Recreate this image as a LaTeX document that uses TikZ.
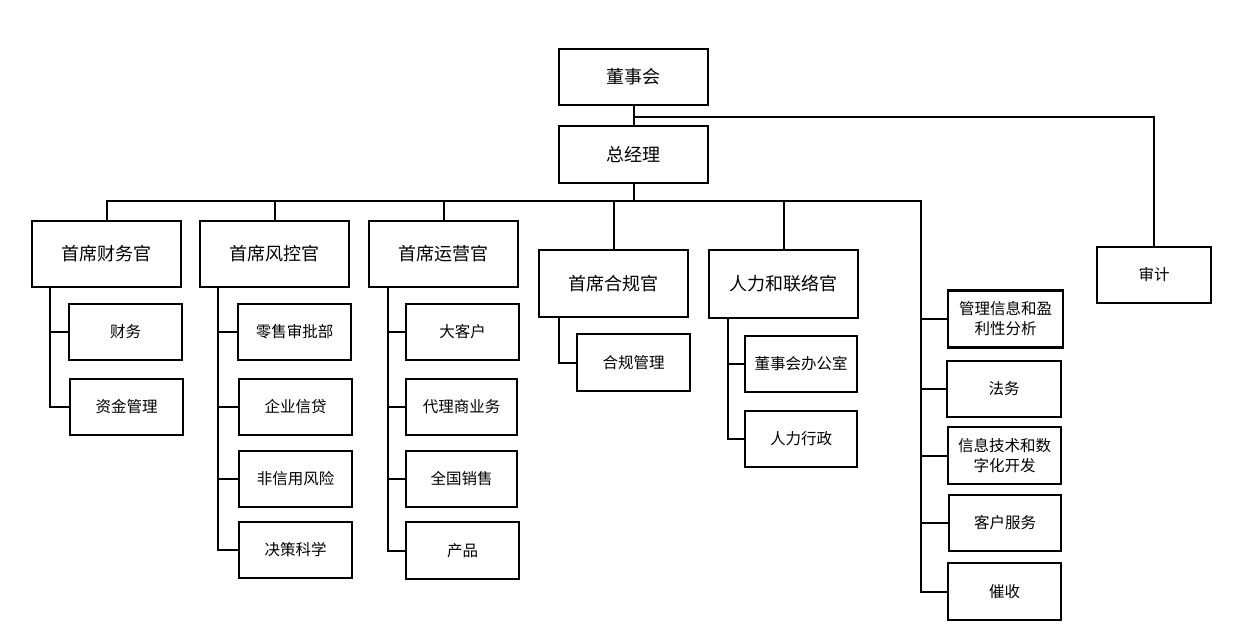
\documentclass[tikz,border=0pt]{standalone}
\usepackage{fontspec}
\setmainfont{Noto Sans CJK SC}
\begin{document}
\begin{tikzpicture}[x=1pt,y=-1pt,
  box/.style={draw=black,line width=2.8pt,fill=white,inner sep=0pt,align=center},
  big/.style={box,minimum width=149pt,font=\fontsize{18}{21}\selectfont},
  small/.style={box,minimum width=113pt,minimum height=56pt,font=\fontsize{15.5}{20}\selectfont},
  conn/.style={draw=black,line width=2pt}]
\useasboundingbox (0,0) rectangle (1247,632);
% top
\node[big,minimum height=56pt] (dsh) at (633.5,77) {董事会};
\node[big,minimum height=57pt] (zjl) at (633.5,154.5) {总经理};
\node[small,minimum width=114pt] (sj) at (1154,275) {审计};
% chiefs
\node[big,minimum height=66pt] (cfo) at (106.5,254) {首席财务官};
\node[big,minimum height=66pt] (cro) at (274.5,254) {首席风控官};
\node[big,minimum height=66pt] (coo) at (443.5,254) {首席运营官};
\node[big,minimum height=67pt] (cco) at (613.5,283.5) {首席合规官};
\node[big,minimum height=68pt] (hr) at (783.5,284) {人力和联络官};
% cfo children
\node[small] (cw) at (125.5,332) {财务};
\node[small] (zjgl) at (126.5,407) {资金管理};
% cro children
\node[small] (lssp) at (294.5,332) {零售审批部};
\node[small] (qyxd) at (295.5,407) {企业信贷};
\node[small] (fxyfx) at (295.5,479) {非信用风险};
\node[small] (jckx) at (295.5,550) {决策科学};
% coo children
\node[small] (dkh) at (462.5,332) {大客户};
\node[small,minimum width=111pt] (dlsyw) at (461.5,407) {代理商业务};
\node[small,minimum width=111pt] (qgxs) at (461.5,479) {全国销售};
\node[small,minimum height=57pt] (cp) at (462.5,550.5) {产品};
% cco child
\node[small,minimum height=57pt] (hggl) at (633.5,362.5) {合规管理};
% hr children
\node[small,minimum width=112pt] (dshbgs) at (801,364) {董事会办公室};
\node[small,minimum width=112pt] (rlxz) at (801,439) {人力行政};
% right column
\node[small,minimum width=115pt,minimum height=57pt] (glxx) at (1005.5,319) {管理信息和盈\\利性分析};
\node[small,minimum width=114pt] (fw) at (1004,389) {法务};
\node[small,minimum height=57pt] (xxjs) at (1004.5,455.5) {信息技术和数\\字化开发};
\node[small,minimum width=112pt] (khfw) at (1005,523) {客户服务};
\node[small,minimum height=57pt] (cs) at (1004.5,591.5) {催收};
% connector coordinates
\coordinate (aud) at (633.5,117);
\coordinate (bus) at (633.5,201);
\coordinate (rc) at (921,201);
\coordinate (rcEnd) at (921,591.5);
\coordinate (cfoT) at (50,287);
\coordinate (croT) at (218,287);
\coordinate (cooT) at (388,287);
\coordinate (ccoT) at (559,317);
\coordinate (hrT) at (728,318);
% connectors
\draw[conn] (dsh.south) -- (zjl.north);
\draw[conn] (aud) -| (sj.north);
\draw[conn] (zjl.south) -- (bus);
\draw[conn] (cfo.north) |- (rc) -- (rcEnd);
\draw[conn] (cro.north) -- (cro.north |- bus);
\draw[conn] (coo.north) -- (coo.north |- bus);
\draw[conn] (cco.north) -- (cco.north |- bus);
\draw[conn] (hr.north) -- (hr.north |- bus);
\draw[conn] (cfoT) |- (cw.west);
\draw[conn] (cfoT) |- (zjgl.west);
\draw[conn] (croT) |- (lssp.west);
\draw[conn] (croT) |- (qyxd.west);
\draw[conn] (croT) |- (fxyfx.west);
\draw[conn] (croT) |- (jckx.west);
\draw[conn] (cooT) |- (dkh.west);
\draw[conn] (cooT) |- (dlsyw.west);
\draw[conn] (cooT) |- (qgxs.west);
\draw[conn] (cooT) |- (cp.west);
\draw[conn] (ccoT) |- (hggl.west);
\draw[conn] (hrT) |- (dshbgs.west);
\draw[conn] (hrT) |- (rlxz.west);
\draw[conn] (rc) |- (glxx.west);
\draw[conn] (rc) |- (fw.west);
\draw[conn] (rc) |- (xxjs.west);
\draw[conn] (rc) |- (khfw.west);
\draw[conn] (rc) |- (cs.west);
\end{tikzpicture}
\end{document}
